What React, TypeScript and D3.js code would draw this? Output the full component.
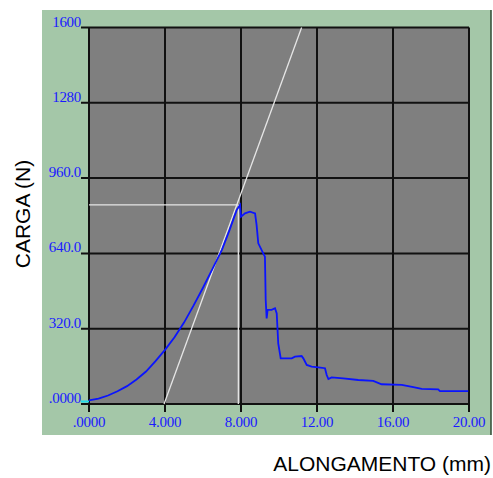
import React from "react";
import * as d3 from "d3";

// load curve: elongation (mm) vs load (N)
const alongamento = [
  0, 0.5, 1, 1.5, 2, 2.5, 3, 3.5, 4, 4.5, 5, 5.5, 6, 6.5, 7, 7.4, 7.77, 7.95, 8.0,
  8.21, 8.47, 8.74, 8.82, 8.91, 9.17, 9.26, 9.3, 9.35, 9.4, 9.61, 9.79, 9.88, 9.96,
  10.09, 10.67, 10.84, 11.19, 11.28, 11.46, 11.72, 12.07, 12.42, 12.51, 12.6, 12.77,
  13.38, 14.17, 14.96, 15.4, 16.46, 17.07, 17.51, 18.38, 18.47, 19.96,
];
const carga = [
  15, 23, 36, 54, 76, 104, 138, 182, 230, 284, 346, 418, 494, 574, 656, 740, 824, 846, 796,
  810, 817, 810, 761, 683, 640, 626, 442, 364, 400, 400, 407, 385, 258,
  194, 194, 201, 204, 194, 166, 159, 156, 152, 123, 106, 113,
  109, 102, 98, 84, 81, 72, 64, 62, 55, 55,
];

// construction lines: peak load, and the offset line
const cargaMax = 846;
const alongMax = 7.86;
const retaX = [3.95, 11.19];
const retaY = [0, 1600];

const xTicks = [0, 4, 8, 12, 16, 20];
const xTickLabels = [".0000", "4.000", "8.000", "12.00", "16.00", "20.00"];
const yTicks = [0, 320, 640, 960, 1280, 1600];
const yTickLabels = [".0000", "320.0", "640.0", "960.0", "1280", "1600"];

const W = 493;
const H = 478;
const left = 89;
const right = 469;
const top = 27.5;
const bottom = 404;

export default function App() {
  const x = d3.scaleLinear().domain([0, 20]).range([left, right]);
  const y = d3.scaleLinear().domain([0, 1600]).range([bottom, top]);
  const pts: [number, number][] = alongamento.map((a, i) => [a, carga[i]]);
  const line = d3
    .line<[number, number]>()
    .x((d) => x(d[0]))
    .y((d) => y(d[1]));

  const tickFont = {
    fontFamily: "'Liberation Serif', 'DejaVu Serif', serif",
    fontSize: 15,
    fill: "#1a1aff",
    letterSpacing: -0.3,
  };

  return (
    <svg
      width={W}
      height={H}
      style={{ position: "absolute", left: 0, top: 0, background: "#fff" }}
    >
      <rect x={42} y={10} width={449} height={425} fill="#a4c7a8" />
      <line x1={491} y1={10} x2={491} y2={435} stroke="#2f4a33" strokeWidth={1.5} />
      <rect x={left} y={top} width={right - left} height={bottom - top} fill="#7f7f7f" />

      {xTicks.map((t) => (
        <line
          key={"gx" + t}
          x1={x(t)}
          x2={x(t)}
          y1={top}
          y2={bottom + 8}
          stroke="#111"
          strokeWidth={2}
        />
      ))}
      {yTicks.map((t) => (
        <line
          key={"gy" + t}
          x1={left - 8}
          x2={right}
          y1={y(t)}
          y2={y(t)}
          stroke="#111"
          strokeWidth={2}
        />
      ))}
      <line x1={81} x2={left} y1={y(0) - 2.5} y2={y(0) - 2.5} stroke="#22ddee" strokeWidth={2} />

      {/* construction lines */}
      <line
        x1={x(0)}
        x2={x(alongMax)}
        y1={y(cargaMax)}
        y2={y(cargaMax)}
        stroke="#e6e6e6"
        strokeWidth={1.3}
      />
      <line
        x1={x(alongMax)}
        x2={x(alongMax)}
        y1={y(cargaMax)}
        y2={y(0)}
        stroke="#e6e6e6"
        strokeWidth={1.3}
      />
      <line
        x1={x(retaX[0])}
        x2={x(retaX[1])}
        y1={y(retaY[0])}
        y2={y(retaY[1])}
        stroke="#e6e6e6"
        strokeWidth={1.3}
      />

      <path d={line(pts) || ""} fill="none" stroke="#0a14ff" strokeWidth={1.8} />

      {yTicks.map((t, i) => (
        <text key={"yl" + t} x={81} y={y(t) - 1} textAnchor="end" {...tickFont}>
          {yTickLabels[i]}
        </text>
      ))}
      {xTicks.map((t, i) => (
        <text key={"xl" + t} x={x(t)} y={427} textAnchor="middle" {...tickFont}>
          {xTickLabels[i]}
        </text>
      ))}

      <text
        transform="translate(30,214) rotate(-90)"
        textAnchor="middle"
        fontFamily="'Liberation Sans', Arial, sans-serif"
        fontSize={21}
        fill="#000"
      >
        CARGA (N)
      </text>
      <text
        x={491}
        y={471}
        textAnchor="end"
        fontFamily="'Liberation Sans', Arial, sans-serif"
        fontSize={21}
        fill="#000"
      >
        ALONGAMENTO (mm)
      </text>
    </svg>
  );
}
